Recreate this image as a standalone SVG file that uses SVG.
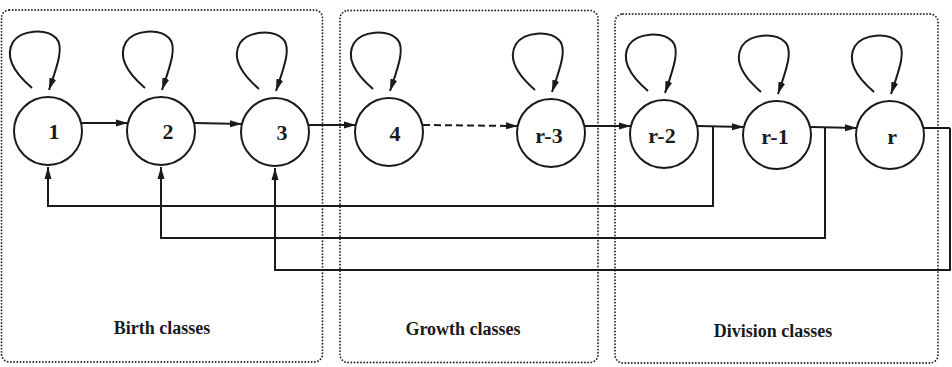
<svg xmlns="http://www.w3.org/2000/svg" width="952" height="367" viewBox="0 0 952 367">
  <style>
    .box { fill: none; stroke: #2a2a2a; stroke-width: 1.9; stroke-dasharray: 0 3.2; stroke-linecap: round; }
    .node circle { fill: #fff; stroke: #1a1a1a; stroke-width: 2; }
    .loop { fill: none; stroke: #1a1a1a; stroke-width: 2; marker-end: url(#arr); }
    .lbl { font-family: "Liberation Serif", "Times New Roman", serif; font-weight: bold; font-size: 22px; fill: #1a1a1a; text-anchor: middle; }
    .cap { font-family: "Liberation Serif", "Times New Roman", serif; font-weight: bold; font-size: 18px; fill: #1a1a1a; text-anchor: middle; }
    .edge { fill: none; stroke: #1a1a1a; stroke-width: 2; }
    .arrow { marker-end: url(#arr); }
    .dash { stroke-dasharray: 7 4; }
  </style>
  <defs>
    <marker id="arr" viewBox="0 0 12 8" refX="12" refY="4" markerWidth="12" markerHeight="8" markerUnits="userSpaceOnUse" orient="auto">
      <path d="M0,0.5 L12,4 L0,7.5 Z" fill="#1a1a1a"/>
    </marker>
    <path id="selfloop" d="M -16 -43 C -30 -55, -45 -72, -35 -89 C -27 -101, -2 -103, 8 -93 C 17 -84, 8 -62, 1 -41"/>
  </defs>
  <rect width="952" height="367" fill="#fff"/>

  <!-- class groupings -->
  <g id="groups">
    <rect class="box" x="1.5" y="10" width="321" height="352" rx="8"/>
    <rect class="box" x="340" y="10.5" width="258" height="352" rx="8"/>
    <rect class="box" x="615" y="14" width="323" height="349" rx="8"/>
    <text class="cap" x="162" y="334">Birth classes</text>
    <text class="cap" x="463" y="335">Growth classes</text>
    <text class="cap" x="773" y="337">Division classes</text>
  </g>

  <!-- transitions -->
  <g id="connectors">
    <path class="edge arrow" d="M 81 123 L 128 123"/>
    <path class="edge arrow" d="M 195 123 L 242 124"/>
    <path class="edge arrow" d="M 309 125 L 356 125"/>
    <path class="edge arrow dash" d="M 423 125 L 518 126"/>
    <path class="edge arrow" d="M 585 126 L 631 126"/>
    <path class="edge arrow" d="M 698 126 L 744 127"/>
    <path class="edge arrow" d="M 811 127 L 857 128"/>
    <path class="edge" d="M 924 128 L 950 128"/>
    <!-- division feedback to birth classes -->
    <path class="edge arrow" d="M 713 126 L 713 206 L 48 206 L 48 167"/>
    <path class="edge arrow" d="M 825 127 L 825 238 L 161 238 L 161 167"/>
    <path class="edge arrow" d="M 950 128 L 950 270 L 275 270 L 275 168"/>
  </g>

  <g id="n1" class="node" transform="translate(48,131)">
    <use href="#selfloop" class="loop"/>
    <circle r="34"/>
    <text class="lbl" x="6" y="8" font-size="24">1</text>
  </g>
  <g id="n2" class="node" transform="translate(161,131)">
    <use href="#selfloop" class="loop"/>
    <circle r="34"/>
    <text class="lbl" x="7" y="8" font-size="24">2</text>
  </g>
  <g id="n3" class="node" transform="translate(275,132)">
    <use href="#selfloop" class="loop"/>
    <circle r="34"/>
    <text class="lbl" x="7" y="8" font-size="24">3</text>
  </g>
  <g id="n4" class="node" transform="translate(389,132)">
    <use href="#selfloop" class="loop"/>
    <circle r="34"/>
    <text class="lbl" x="6" y="8.5" font-size="24">4</text>
  </g>
  <g id="nr3" class="node" transform="translate(551,133)">
    <use href="#selfloop" class="loop"/>
    <circle r="34"/>
    <text class="lbl" x="-2" y="10" font-size="23">r-3</text>
  </g>
  <g id="nr2" class="node" transform="translate(664,134)">
    <use href="#selfloop" class="loop"/>
    <circle r="34"/>
    <text class="lbl" x="-2" y="9" font-size="23">r-2</text>
  </g>
  <g id="nr1" class="node" transform="translate(777,135)">
    <use href="#selfloop" class="loop"/>
    <circle r="34"/>
    <text class="lbl" x="-2" y="8.5" font-size="23">r-1</text>
  </g>
  <g id="nr" class="node" transform="translate(890,135)">
    <use href="#selfloop" class="loop"/>
    <circle r="34"/>
    <text class="lbl" x="2" y="8.5" font-size="23">r</text>
  </g>
</svg>
